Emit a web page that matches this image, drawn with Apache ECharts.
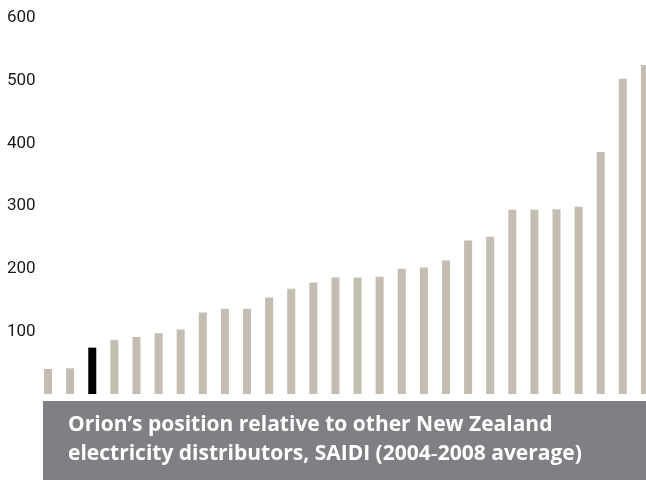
<!DOCTYPE html>
<html>
<head>
<meta charset="utf-8">
<script src="https://cdn.jsdelivr.net/npm/echarts@6/dist/echarts.min.js"></script>
<style>html,body{margin:0;padding:0;background:#fff;overflow:hidden}#c{width:656px;height:480px}</style>
</head>
<body>
<div id="c"></div>
<script>
var categories = ['1','2','Orion','4','5','6','7','8','9','10','11','12','13','14','15','16','17','18','19','20','21','22','23','24','25','26','27','28'];
var saidiValues = [40, 41, 74, 86, 91, 97, 103, 130, 136, 136, 154, 168, 178, 186, 186, 187, 200, 202, 213, 245, 251, 294, 294, 295, 299, 386, 503, 525];
var highlightIndex = 2;
var yTicks = [0, 100, 200, 300, 400, 500, 600];
var captionLines = ['Orion\u2019s position relative to other New Zealand', 'electricity distributors, SAIDI (2004\u20112008 average)'];

var chart = echarts.init(document.getElementById('c'), null, {renderer: 'canvas'});
chart.setOption({
  animation: false,
  backgroundColor: '#ffffff',
  grid: {left: 37, right: 0, top: 18, bottom: 86, containLabel: false},
  xAxis: {
    type: 'category', data: categories,
    axisLine: {show: false}, axisTick: {show: false}, axisLabel: {show: false}, splitLine: {show: false}
  },
  yAxis: {
    type: 'value', min: yTicks[0], max: yTicks[yTicks.length - 1], interval: 100,
    axisLine: {show: false}, axisTick: {show: false}, splitLine: {show: false},
    axisLabel: {
      align: 'left', margin: 30, color: '#1a1a1a', fontSize: 17, fontFamily: 'Roboto',
      formatter: function (v) { return v === 0 ? '' : String(v); }
    }
  },
  series: [{
    type: 'bar', barWidth: 8,
    data: saidiValues.map(function (v, i) {
      return {value: v, itemStyle: {color: i === highlightIndex ? '#000000' : '#c4bdb2'}};
    })
  }],
  graphic: [
    {type: 'rect', left: 43, top: 401, shape: {width: 613, height: 79}, style: {fill: '#808084'}},
    {type: 'text', left: 68, top: 415, style: {text: captionLines[0], fill: '#ffffff', font: 'bold 21px "Open Sans"'}},
    {type: 'text', left: 68, top: 444, style: {text: captionLines[1], fill: '#ffffff', font: 'bold 21px "Open Sans"'}}
  ]
});
</script>
</body>
</html>
